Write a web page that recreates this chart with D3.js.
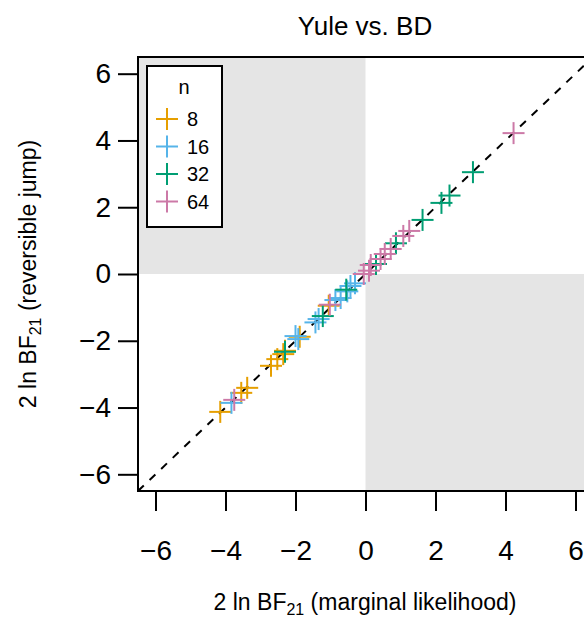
<!DOCTYPE html>
<html>
<head>
<meta charset="utf-8">
<script src="https://cdn.jsdelivr.net/npm/d3@7"></script>
<style>
body { margin: 0; background: white; }
svg { font-family: "Liberation Sans", Arial, sans-serif; }
</style>
</head>
<body>
<script>
/* Data: 2 ln BF21, marginal likelihood (x) vs reversible jump (y) */
var groups = ["8", "16", "32", "64"];
var groupColors = ["#E69F00", "#56B4E9", "#009E73", "#CC79A7"];
var ticks = [-6, -4, -2, 0, 2, 4, 6];

var ml8  = [-4.15, -3.55, -3.38, -2.70, -2.52, -2.35, -2.30, -1.88, -1.05];
var rj8  = [-4.13, -3.56, -3.41, -2.75, -2.55, -2.40, -2.30, -1.88, -0.95];
var ml16 = [-3.83, -2.00, -1.92, -1.43, -1.34, -0.86, -0.71, -0.52, -0.43, -0.30];
var rj16 = [-3.86, -1.86, -1.95, -1.45, -1.35, -0.78, -0.72, -0.52, -0.36, -0.28];
var ml32 = [-2.30, -1.22, -0.55, 0.30, 0.87, 1.63, 2.17, 2.40, 3.07];
var rj32 = [-2.33, -1.26, -0.47, 0.30, 0.92, 1.62, 2.13, 2.35, 3.05];
var ml64 = [-3.75, -1.02, -0.05, 0.10, 0.15, 0.43, 0.55, 0.72, 1.08, 1.25, 4.23];
var rj64 = [-3.77, -0.92, 0.00, 0.10, 0.27, 0.45, 0.60, 0.75, 1.14, 1.29, 4.22];

var mlAll = [ml8, ml16, ml32, ml64],
	rjAll = [rj8, rj16, rj32, rj64];

/* Display setup */
var W = 584, H = 619,
	plot = {left: 138, top: 57, right: 593, bottom: 491},
	x = d3.scaleLinear().domain([-6.5, 6.5]).range([plot.left, plot.right]),
	y = d3.scaleLinear().domain([-6.5, 6.5]).range([plot.bottom, plot.top]),
	svg = d3.select("body").append("svg")
		.attr("width", W)
		.attr("height", H);

svg.append("clipPath").attr("id", "plotclip")
	.append("rect")
		.attr("x", plot.left).attr("y", plot.top)
		.attr("width", plot.right - plot.left).attr("height", plot.bottom - plot.top);

var g = svg.append("g").attr("clip-path", "url(#plotclip)");

// grey quadrants (disagreement regions)
g.append("rect")
	.attr("x", x(-6.5)).attr("y", y(6.5))
	.attr("width", x(0) - x(-6.5)).attr("height", y(0) - y(6.5))
	.style("fill", "#e5e5e5");
g.append("rect")
	.attr("x", x(0)).attr("y", y(0))
	.attr("width", x(6.5) - x(0)).attr("height", y(-6.5) - y(0))
	.style("fill", "#e5e5e5");

// y = x
g.append("line")
	.attr("x1", x(-6.5)).attr("y1", y(-6.5))
	.attr("x2", x(6.5)).attr("y2", y(6.5))
	.style("stroke", "black").style("stroke-width", 2).style("stroke-dasharray", "8,8");

function cross(sel, size) {
	sel.append("line").attr("x1", -size).attr("x2", size).attr("y1", 0).attr("y2", 0);
	sel.append("line").attr("x1", 0).attr("x2", 0).attr("y1", -size).attr("y2", size);
}

groups.forEach(function(grp, i) {
	var pts = mlAll[i].map(function(v, j) { return [v, rjAll[i][j]]; });
	g.append("g")
		.selectAll("g")
		.data(pts)
		.enter().append("g")
			.attr("transform", function(d) { return "translate(" + x(d[0]) + "," + y(d[1]) + ")"; })
			.style("stroke", groupColors[i]).style("stroke-width", 2)
			.call(cross, 11);
});

// box
svg.append("rect")
	.attr("x", plot.left).attr("y", plot.top)
	.attr("width", plot.right - plot.left).attr("height", plot.bottom - plot.top)
	.style("fill", "none").style("stroke", "black").style("stroke-width", 2);

/* Axes */
var fmt = function(d) { return d < 0 ? "\u2212" + Math.abs(d) : d; };
var xAxis = svg.append("g").attr("transform", "translate(0," + plot.bottom + ")")
	.call(d3.axisBottom(x).tickValues(ticks).tickSize(20).tickPadding(29).tickFormat(fmt));
var yAxis = svg.append("g").attr("transform", "translate(" + plot.left + ",0)")
	.call(d3.axisLeft(y).tickValues(ticks).tickSize(20).tickPadding(7).tickFormat(fmt));

[xAxis, yAxis].forEach(function(a) {
	a.select(".domain").remove();
	a.selectAll("line").style("stroke", "black").style("stroke-width", 2);
	a.selectAll("text").style("font-size", "28px").style("fill", "black")
		.style("font-family", "Liberation Sans, Arial, sans-serif");
});

/* Titles */
svg.append("text")
	.attr("x", 365).attr("y", 35)
	.attr("text-anchor", "middle")
	.style("font-size", "26px")
	.text("Yule vs. BD");

var xl = svg.append("text")
	.attr("x", 365).attr("y", 610)
	.attr("text-anchor", "middle")
	.style("font-size", "23px");
xl.append("tspan").text("2 ln BF");
xl.append("tspan").attr("dy", 5).style("font-size", "16px").text("21");
xl.append("tspan").attr("dy", -5).text(" (marginal likelihood)");

var yl = svg.append("text")
	.attr("transform", "translate(36,274) rotate(-90)")
	.attr("text-anchor", "middle")
	.style("font-size", "23px");
yl.append("tspan").text("2 ln BF");
yl.append("tspan").attr("dy", 5).style("font-size", "16px").text("21");
yl.append("tspan").attr("dy", -5).text(" (reversible jump)");

/* Legend */
var legend = svg.append("g");
legend.append("rect")
	.attr("x", 147).attr("y", 66).attr("width", 75).attr("height", 161)
	.style("fill", "white").style("stroke", "black").style("stroke-width", 2);
legend.append("text")
	.attr("x", 184).attr("y", 94)
	.attr("text-anchor", "middle")
	.style("font-size", "20px")
	.text("n");
var items = legend.selectAll("g.item")
	.data(groups)
	.enter().append("g")
		.attr("class", "item")
		.attr("transform", function(d, i) { return "translate(167," + (119 + i * 27.5) + ")"; });
items.append("g")
	.style("stroke", function(d, i) { return groupColors[i]; }).style("stroke-width", 2)
	.call(cross, 11);
items.append("text")
	.attr("x", 20).attr("y", 7)
	.style("font-size", "20px")
	.text(function(d) { return d; });
</script>
</body>
</html>
